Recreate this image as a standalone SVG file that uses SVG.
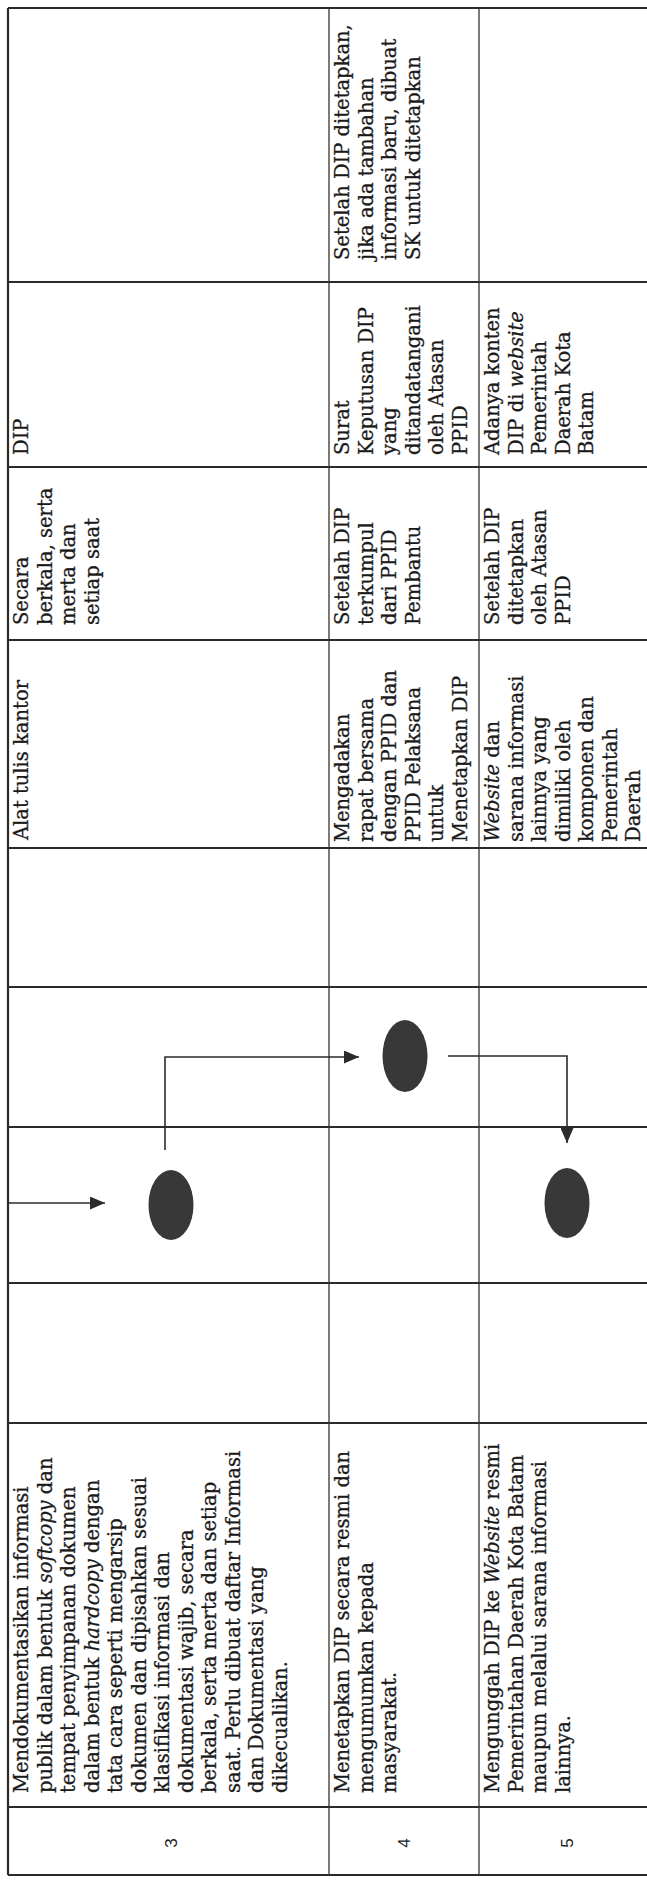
<svg xmlns="http://www.w3.org/2000/svg" width="647" height="1880" viewBox="0 0 647 1880">
<style>
  .bg{fill:#ffffff}
  .hl{stroke:#2a2a2a;stroke-width:2;fill:none}
  .vl{stroke:#333333;stroke-width:1.3;fill:none}
  .bd{stroke:#2a2a2a;stroke-width:2.2;fill:none}
  .t{font-family:"DejaVu Serif","Liberation Serif",serif;font-size:19.5px;fill:#1a1a1a;stroke:#1a1a1a;stroke-width:0.3}
  .it{font-style:italic}
  .num{font-family:"Liberation Sans",Arial,sans-serif;font-size:17px;fill:#222222;text-anchor:middle;dominant-baseline:central}
  .node{fill:#383838}
  .conn{stroke:#2b2b2b;stroke-width:1.6;fill:none}
</style>
<defs>
  <marker id="ah" markerUnits="userSpaceOnUse" markerWidth="15" markerHeight="13" refX="15" refY="6.5" orient="auto">
    <path d="M0,0 L15,6.5 L0,13 Z" fill="#2b2b2b"/>
  </marker>
</defs>
<rect class="bg" x="0" y="0" width="647" height="1880"/>

<g id="grid">
  <line class="bd" x1="8" y1="8" x2="647" y2="8"/>
  <line class="hl" x1="8" y1="282" x2="647" y2="282"/>
  <line class="hl" x1="8" y1="467" x2="647" y2="467"/>
  <line class="hl" x1="8" y1="640" x2="647" y2="640"/>
  <line class="hl" x1="8" y1="848" x2="647" y2="848"/>
  <line class="hl" x1="8" y1="987" x2="647" y2="987"/>
  <line class="hl" x1="8" y1="1127" x2="647" y2="1127"/>
  <line class="hl" x1="8" y1="1283" x2="647" y2="1283"/>
  <line class="hl" x1="8" y1="1423" x2="647" y2="1423"/>
  <line class="hl" x1="8" y1="1807" x2="647" y2="1807"/>
  <line class="bd" x1="8" y1="1875" x2="647" y2="1875"/>
  <line class="bd" x1="8" y1="8" x2="8" y2="1875"/>
  <line class="vl" x1="329" y1="8" x2="329" y2="1875"/>
  <line class="vl" x1="479" y1="8" x2="479" y2="1875"/>
</g>

<g id="col-keterangan">
  <text class="t" transform="translate(349,260) rotate(-90)"><tspan x="0" y="0">Setelah DIP ditetapkan,</tspan><tspan x="0" dy="23.5">jika ada tambahan</tspan><tspan x="0" dy="23.5">informasi baru, dibuat</tspan><tspan x="0" dy="23.5">SK untuk ditetapkan</tspan></text>
</g>

<g id="col-output">
  <text class="t" transform="translate(28,455) rotate(-90)"><tspan x="0" y="0">DIP</tspan></text>
  <text class="t" transform="translate(349,455) rotate(-90)"><tspan x="0" y="0">Surat</tspan><tspan x="0" dy="23.5">Keputusan DIP</tspan><tspan x="0" dy="23.5">yang</tspan><tspan x="0" dy="23.5">ditandatangani</tspan><tspan x="0" dy="23.5">oleh Atasan</tspan><tspan x="0" dy="23.5">PPID</tspan></text>
  <text class="t" transform="translate(499,455) rotate(-90)"><tspan x="0" y="0">Adanya konten</tspan><tspan x="0" dy="23.5">DIP di <tspan class="it">website</tspan></tspan><tspan x="0" dy="23.5">Pemerintah</tspan><tspan x="0" dy="23.5">Daerah Kota</tspan><tspan x="0" dy="23.5">Batam</tspan></text>
</g>

<g id="col-waktu">
  <text class="t" transform="translate(28,625) rotate(-90)"><tspan x="0" y="0">Secara</tspan><tspan x="0" dy="23.5">berkala, serta</tspan><tspan x="0" dy="23.5">merta dan</tspan><tspan x="0" dy="23.5">setiap saat</tspan></text>
  <text class="t" transform="translate(349,625) rotate(-90)"><tspan x="0" y="0">Setelah DIP</tspan><tspan x="0" dy="23.5">terkumpul</tspan><tspan x="0" dy="23.5">dari PPID</tspan><tspan x="0" dy="23.5">Pembantu</tspan></text>
  <text class="t" transform="translate(499,625) rotate(-90)"><tspan x="0" y="0">Setelah DIP</tspan><tspan x="0" dy="23.5">ditetapkan</tspan><tspan x="0" dy="23.5">oleh Atasan</tspan><tspan x="0" dy="23.5">PPID</tspan></text>
</g>

<g id="col-kelengkapan">
  <text class="t" transform="translate(28,840) rotate(-90)"><tspan x="0" y="0">Alat tulis kantor</tspan></text>
  <text class="t" transform="translate(349,842) rotate(-90)"><tspan x="0" y="0">Mengadakan</tspan><tspan x="0" dy="23.5">rapat bersama</tspan><tspan x="0" dy="23.5">dengan PPID dan</tspan><tspan x="0" dy="23.5">PPID Pelaksana</tspan><tspan x="0" dy="23.5">untuk</tspan><tspan x="0" dy="23.5">Menetapkan DIP</tspan></text>
  <text class="t" transform="translate(499,842) rotate(-90)"><tspan x="0" y="0" class="it">Website</tspan><tspan> dan</tspan><tspan x="0" dy="23.5">sarana informasi</tspan><tspan x="0" dy="23.5">lainnya yang</tspan><tspan x="0" dy="23.5">dimiliki oleh</tspan><tspan x="0" dy="23.5">komponen dan</tspan><tspan x="0" dy="23.5">Pemerintah</tspan><tspan x="0" dy="23.5">Daerah</tspan></text>
</g>

<g id="col-kegiatan">
  <text class="t" transform="translate(28,1793) rotate(-90)"><tspan x="0" y="0">Mendokumentasikan informasi</tspan><tspan x="0" dy="23.5">publik dalam bentuk <tspan class="it">softcopy</tspan> dan</tspan><tspan x="0" dy="23.5">tempat penyimpanan dokumen</tspan><tspan x="0" dy="23.5">dalam bentuk <tspan class="it">hardcopy</tspan> dengan</tspan><tspan x="0" dy="23.5">tata cara seperti mengarsip</tspan><tspan x="0" dy="23.5">dokumen dan dipisahkan sesuai</tspan><tspan x="0" dy="23.5">klasifikasi informasi dan</tspan><tspan x="0" dy="23.5">dokumentasi wajib, secara</tspan><tspan x="0" dy="23.5">berkala, serta merta dan setiap</tspan><tspan x="0" dy="23.5">saat. Perlu dibuat daftar Informasi</tspan><tspan x="0" dy="23.5">dan Dokumentasi yang</tspan><tspan x="0" dy="23.5">dikecualikan.</tspan></text>
  <text class="t" transform="translate(349,1793) rotate(-90)"><tspan x="0" y="0">Menetapkan DIP secara resmi dan</tspan><tspan x="0" dy="23.5">mengumumkan kepada</tspan><tspan x="0" dy="23.5">masyarakat.</tspan></text>
  <text class="t" transform="translate(499,1793) rotate(-90)"><tspan x="0" y="0">Mengunggah DIP ke <tspan class="it">Website</tspan> resmi</tspan><tspan x="0" dy="23.5">Pemerintahan Daerah Kota Batam</tspan><tspan x="0" dy="23.5">maupun melalui sarana informasi</tspan><tspan x="0" dy="23.5">lainnya.</tspan></text>
</g>

<g id="col-no">
  <text class="num" transform="translate(171,1843) rotate(-90)">3</text>
  <text class="num" transform="translate(404,1843) rotate(-90)">4</text>
  <text class="num" transform="translate(567,1843) rotate(-90)">5</text>
</g>

<g id="node-3"><ellipse class="node" cx="171" cy="1205" rx="22.5" ry="35"/></g>
<g id="node-4"><ellipse class="node" cx="405" cy="1056" rx="22.5" ry="36"/></g>
<g id="node-5"><ellipse class="node" cx="567" cy="1203" rx="22.5" ry="35"/></g>

<g id="connectors">
  <path class="conn" d="M8,1203 H105" marker-end="url(#ah)"/>
  <path class="conn" d="M165,1150 V1057 H359" marker-end="url(#ah)"/>
  <path class="conn" d="M448,1056 H567 V1143" marker-end="url(#ah)"/>
</g>
</svg>
